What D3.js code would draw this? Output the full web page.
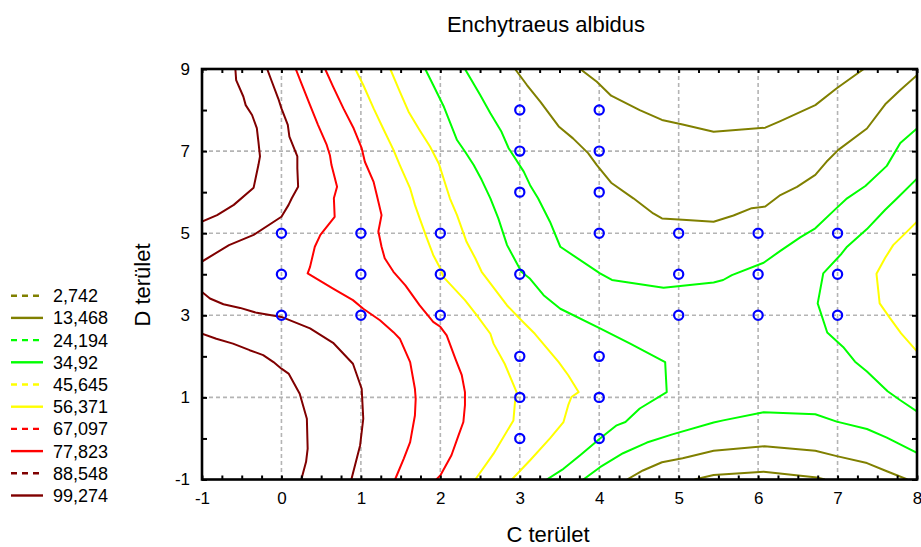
<!DOCTYPE html>
<html>
<head>
<meta charset="utf-8">
<script src="https://cdn.jsdelivr.net/npm/d3@7/dist/d3.min.js"></script>
<style>
body { margin: 0; background: #fff; }
text { font-family: "Liberation Sans", Arial, sans-serif; fill: #000; }
</style>
</head>
<body>
<div id="chart"></div>
<script>
const chartWidth = 921;
const chartHeight = 547;

// contour levels (legend)
const levelLabels = ["2,742", "13,468", "24,194", "34,92", "45,645", "56,371", "67,097", "77,823", "88,548", "99,274"];
const levelColors = ["#808000", "#808000", "#00ff00", "#00ff00", "#ffff00", "#ffff00", "#ff0000", "#ff0000", "#800000", "#800000"];
const levelDashed = [true, false, true, false, true, false, true, false, true, false];

// axis ticks
const xTickValues = [-1, 0, 1, 2, 3, 4, 5, 6, 7, 8];
const yTickValues = [-1, 1, 3, 5, 7, 9];
const xGridValues = [0, 1, 2, 3, 4, 5, 6, 7];
const yGridValues = [1, 3, 5, 7];

// sample positions (C, D)
const sampleX = [3, 4, 3, 4, 3, 4, 0, 1, 2, 4, 5, 6, 7, 0, 1, 2, 3, 5, 6, 7, 0, 1, 2, 5, 6, 7, 3, 4, 3, 4, 3, 4];
const sampleY = [8, 8, 7, 7, 6, 6, 5, 5, 5, 5, 5, 5, 5, 4, 4, 4, 4, 4, 4, 4, 3, 3, 3, 3, 3, 3, 2, 2, 1, 1, 0, 0];

// contour lines, in data units [C, D]
const darkRedTop = [[-0.58,9],[-0.57,8.73],[-0.48,8.33],[-0.45,8.12],[-0.37,7.88],[-0.31,7.56],[-0.29,7.23],[-0.27,6.87],[-0.29,6.66],[-0.35,6.11],[-0.6,5.69],[-0.81,5.44],[-1,5.28]];
const darkRedTop2 = [[-0.18,9],[-0.12,8.69],[-0.04,8.28],[0,8.04],[0.08,7.64],[0.1,7.35],[0.2,6.87],[0.2,6.58],[0.21,6.13],[0.13,5.85],[0.09,5.69],[0,5.4],[-0.35,4.96],[-0.66,4.71],[-1,4.31]];
const darkRedLow = [[-1,2.55],[-0.82,2.43],[-0.61,2.31],[-0.4,2.15],[-0.23,2.03],[-0.1,1.86],[0,1.7],[0.09,1.58],[0.23,1.09],[0.32,0.48],[0.33,-0.25],[0.31,-0.57],[0.25,-1]];
const darkRedLow2 = [[-1,3.57],[-0.9,3.41],[-0.73,3.27],[-0.52,3.18],[-0.31,3.06],[0,2.96],[0.36,2.68],[0.65,2.33],[0.9,1.82],[1.01,1.21],[1.03,0.48],[0.99,-0.17],[0.88,-1]];
const redA = [[0.18,9],[0.26,8.61],[0.36,8.12],[0.46,7.64],[0.57,7.15],[0.61,6.9],[0.63,6.66],[0.7,6.13],[0.66,5.85],[0.67,5.4],[0.49,4.96],[0.42,4.67],[0.36,4.18],[0.33,4.02],[0.65,3.65],[0.9,3.37],[1.03,3.16],[1.24,2.88],[1.41,2.59],[1.49,2.43],[1.62,1.86],[1.68,1.21],[1.69,0.97],[1.68,0.56],[1.62,-0.09],[1.54,-0.49],[1.43,-1]];
const redB = [[0.55,9],[0.65,8.57],[0.78,8.04],[0.91,7.55],[1.01,7.07],[1.05,6.74],[1.16,6.25],[1.2,5.93],[1.26,5.44],[1.22,5.04],[1.26,4.67],[1.3,4.39],[1.41,4.06],[1.56,3.73],[1.74,3.24],[1.91,2.84],[2,2.72],[2.08,2.51],[2.19,1.94],[2.27,1.54],[2.31,1.13],[2.31,0.81],[2.29,0.4],[2.23,0.08],[2.14,-0.41],[2,-0.9],[1.95,-1]];
const yellowA = [[0.93,9],[1.03,8.61],[1.16,8.04],[1.28,7.55],[1.41,7.03],[1.49,6.66],[1.62,6.09],[1.68,5.69],[1.74,5.36],[1.83,4.88],[1.91,4.47],[2,4.14],[2.04,3.93],[2.31,3.37],[2.46,3],[2.63,2.55],[2.67,2.31],[2.81,1.82],[2.96,1.13],[2.94,0.89],[2.92,0.44],[2.67,-0.37],[2.44,-1]];
const yellowB = [[1.37,9],[1.49,8.45],[1.6,7.96],[1.74,7.51],[1.87,7.11],[1.98,6.7],[2.04,6.34],[2.12,5.85],[2.21,5.44],[2.33,4.79],[2.44,4.39],[2.52,4.06],[2.84,3.24],[3.02,2.88],[3.19,2.55],[3.49,1.86],[3.61,1.54],[3.74,1.13],[3.65,1.01],[3.61,0.81],[3.55,0.4],[3.38,0],[3.13,-0.53],[2.9,-1]];
const yellowRight = [[8,5.28],[7.88,5.05],[7.7,4.71],[7.6,4.4],[7.49,4.01],[7.53,3.29],[7.66,2.93],[7.8,2.56],[8,2.12]];
const greenA = [[1.81,9],[1.91,8.61],[2.04,8.1],[2.21,7.27],[2.31,6.99],[2.42,6.66],[2.52,6.3],[2.63,5.85],[2.73,5.36],[2.84,4.71],[3.02,4.06],[3.13,3.89],[3.3,3.49],[3.51,3.16],[4.01,2.68],[4.39,2.31],[4.83,1.86],[4.85,1.13],[4.51,0.73],[4.33,0.4],[4.22,0.32],[4.01,0],[3.76,-0.41],[3.55,-0.74],[3.34,-1]];
const greenB = [[2.31,9],[2.5,8.37],[2.63,7.92],[2.77,7.47],[2.86,7.07],[3.05,6.5],[3.13,6.17],[3.23,5.85],[3.38,5.28],[3.51,4.67],[4.01,4.02],[4.16,3.86],[4.81,3.67],[5.44,3.8],[5.56,3.86],[5.67,3.98],[6.07,4.28],[6.28,4.57],[6.53,4.9],[6.72,5.12],[6.97,5.58],[7.12,5.85],[7.35,6.15],[7.62,6.64],[7.79,7.2],[8,7.55]];
const greenRight = [[8,6.33],[7.75,5.85],[7.6,5.57],[7.37,5.1],[7.12,4.67],[7.05,4.5],[6.82,4.02],[6.75,3.29],[6.87,2.58],[7.07,2.23],[7.22,1.87],[7.37,1.63],[7.63,1.15],[7.79,0.93],[8,0.66]];
const greenLow = [[3.8,-1],[4.01,-0.7],[4.3,-0.36],[4.6,-0.1],[4.92,0.1],[5.44,0.39],[5.56,0.44],[6.07,0.64],[6.72,0.59],[6.99,0.41],[7.37,0.23],[7.62,0.02],[8,-0.35]];
const oliveTop = [[3.76,9],[3.97,8.69],[4.15,8.35],[4.51,8],[4.79,7.76],[5.05,7.65],[5.44,7.47],[6.09,7.57],[6.28,7.73],[6.72,8.12],[6.99,8.53],[7.33,9]];
const oliveTop2 = [[2.94,9],[3.09,8.61],[3.26,8.2],[3.49,7.6],[3.67,7.31],[3.86,6.95],[3.97,6.66],[4.15,6.23],[4.43,5.85],[4.68,5.48],[4.79,5.36],[5.05,5.33],[5.44,5.28],[5.69,5.43],[5.92,5.61],[6.09,5.65],[6.28,5.93],[6.49,6.13],[6.72,6.42],[6.86,6.74],[7.01,7.03],[7.37,7.55],[7.6,8.14],[7.79,8.49],[8,8.85]];
const oliveLow = [[4.35,-1],[4.55,-0.78],[4.79,-0.58],[5.05,-0.48],[5.44,-0.3],[6.08,-0.19],[6.72,-0.3],[6.99,-0.43],[7.37,-0.6],[7.62,-0.8],[7.88,-1]];
const oliveLow2 = [[5.2,-1],[5.44,-0.89],[6.07,-0.81],[6.74,-0.95],[6.84,-1]];

const contourLevel = [9, 8, 9, 8, 7, 6, 5, 4, 4, 3, 2, 3, 2, 0, 1, 1, 0];
const contourPoints = [darkRedTop, darkRedTop2, darkRedLow, darkRedLow2, redA, redB, yellowA, yellowB, yellowRight,
    greenA, greenB, greenRight, greenLow, oliveTop, oliveTop2, oliveLow, oliveLow2];

const plotLeft = 202, plotRight = 917, plotTop = 69, plotBottom = 479.5;

const svg = d3.select("#chart").append("svg")
    .attr("width", chartWidth)
    .attr("height", chartHeight);

const x = d3.scaleLinear().domain([-1, 8]).range([plotLeft, plotRight]);
const y = d3.scaleLinear().domain([-1, 9]).range([plotBottom, plotTop]);

//Grid
svg.append("g").selectAll("line").data(xGridValues).enter().append("line")
    .attr("x1", d => x(d)).attr("x2", d => x(d))
    .attr("y1", plotTop).attr("y2", plotBottom)
    .attr("stroke", "#b4b4b4").attr("stroke-width", 1.6).attr("stroke-dasharray", "4,3");
svg.append("g").selectAll("line").data(yGridValues).enter().append("line")
    .attr("y1", d => y(d)).attr("y2", d => y(d))
    .attr("x1", plotLeft).attr("x2", plotRight)
    .attr("stroke", "#b4b4b4").attr("stroke-width", 1.6).attr("stroke-dasharray", "4,3");

//Contours
const line = d3.line().x(d => x(d[0])).y(d => y(d[1]));
svg.append("clipPath").attr("id", "plotClip").append("rect")
    .attr("x", plotLeft).attr("y", plotTop)
    .attr("width", plotRight - plotLeft).attr("height", plotBottom - plotTop);
svg.append("g").attr("clip-path", "url(#plotClip)")
    .selectAll("path").data(contourPoints).enter().append("path")
    .attr("d", d => line(d))
    .attr("fill", "none")
    .attr("stroke", (d, i) => levelColors[contourLevel[i]])
    .attr("stroke-width", 2)
    .attr("stroke-linejoin", "round");

//Samples
svg.append("g").selectAll("circle").data(sampleX).enter().append("circle")
    .attr("cx", d => x(d))
    .attr("cy", (d, i) => y(sampleY[i]))
    .attr("r", 4.6)
    .attr("fill", "none")
    .attr("stroke", "#0000ff")
    .attr("stroke-width", 2.2);

//Axes
const fontSize = 17;
const bottomAxis = d3.axisBottom(x).tickValues(d3.range(-1, 8.001, 0.25)).tickSize(-4).tickPadding(12)
    .tickFormat(d => xTickValues.includes(d) ? String(d) : "");
const gx = svg.append("g").attr("transform", "translate(0," + plotBottom + ")").call(bottomAxis);
const topAxis = d3.axisTop(x).tickValues(d3.range(-1, 8.001, 0.25)).tickSize(-4).tickFormat("");
const gt = svg.append("g").attr("transform", "translate(0," + plotTop + ")").call(topAxis);
const leftAxis = d3.axisLeft(y).tickValues(d3.range(-1, 9.001, 1)).tickSize(-5).tickPadding(12)
    .tickFormat(d => yTickValues.includes(d) ? String(d) : "");
const gy = svg.append("g").attr("transform", "translate(" + plotLeft + ",0)").call(leftAxis);
const rightAxis = d3.axisRight(y).tickValues(d3.range(-1, 9.001, 1)).tickSize(-5).tickFormat("");
const gr = svg.append("g").attr("transform", "translate(" + plotRight + ",0)").call(rightAxis);

[gx, gt, gy, gr].forEach(function (g) {
    g.select(".domain").remove();
    g.selectAll(".tick line").attr("stroke", "#000").attr("stroke-width", 2);
    g.selectAll("text").style("font-size", fontSize + "px").attr("fill", "#000")
        .style("font-family", "'Liberation Sans', Arial, sans-serif");
});

svg.append("rect")
    .attr("x", plotLeft).attr("y", plotTop)
    .attr("width", plotRight - plotLeft).attr("height", plotBottom - plotTop)
    .attr("fill", "none").attr("stroke", "#000").attr("stroke-width", 2.6);

//Titles
svg.append("text")
    .attr("x", 546).attr("y", 32)
    .attr("text-anchor", "middle")
    .style("font-size", "22px")
    .text("Enchytraeus albidus");
svg.append("text")
    .attr("x", 548).attr("y", 542)
    .attr("text-anchor", "middle")
    .style("font-size", "22px")
    .text("C terület");
svg.append("text")
    .attr("transform", "translate(150,285) rotate(-90)")
    .attr("text-anchor", "middle")
    .style("font-size", "22px")
    .text("D terület");

//Legend
const legendTop = 295.7;
const legendStep = 22.2;
const legend = svg.append("g").selectAll("g").data(levelLabels).enter().append("g")
    .attr("transform", (d, i) => "translate(0," + (legendTop + i * legendStep) + ")");
legend.append("line")
    .attr("x1", 11).attr("x2", 43).attr("y1", 0).attr("y2", 0)
    .attr("stroke", (d, i) => levelColors[i])
    .attr("stroke-width", 2.4)
    .attr("stroke-dasharray", (d, i) => levelDashed[i] ? "6,5" : null);
legend.append("text")
    .attr("x", 53).attr("y", 0).attr("dy", "0.36em")
    .style("font-size", "18px")
    .text(d => d);
</script>
</body>
</html>
